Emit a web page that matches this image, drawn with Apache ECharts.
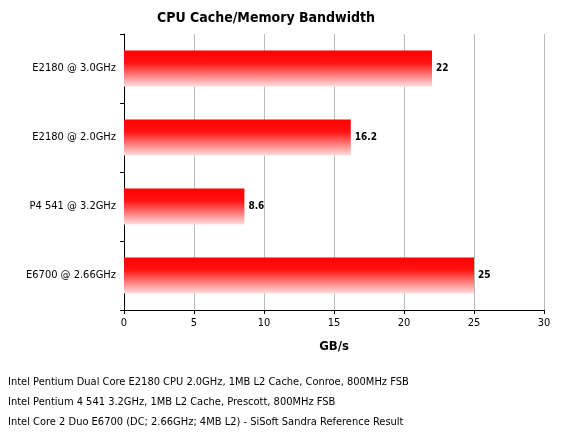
<!DOCTYPE html>
<html><head><meta charset="utf-8">
<script src="https://cdn.jsdelivr.net/npm/echarts@6/dist/echarts.min.js"></script>
<style>body{margin:0}#c{width:574px;height:440px}</style></head>
<body><div id="c"></div>
<script>
const categories = ["E2180 @ 3.0GHz", "E2180 @ 2.0GHz", "P4 541 @ 3.2GHz", "E6700 @ 2.66GHz"];
const values = [22, 16.2, 8.6, 25];
const xTicks = [0, 5, 10, 15, 20, 25, 30];
const notes = [
  "Intel Pentium Dual Core E2180 CPU 2.0GHz, 1MB L2 Cache, Conroe, 800MHz FSB",
  "Intel Pentium 4 541 3.2GHz, 1MB L2 Cache, Prescott, 800MHz FSB",
  "Intel Core 2 Duo E6700 (DC; 2.66GHz; 4MB L2) - SiSoft Sandra Reference Result"
];
const F = "DejaVu Sans Condensed";
const chart = echarts.init(document.getElementById('c'));
chart.setOption({
  animation: false,
  title: {text: "CPU Cache/Memory Bandwidth", left: 261, textAlign: 'center', top: 6,
    textStyle: {fontFamily: F, fontSize: 14, fontWeight: 'bold', color: '#000'}},
  graphic: notes.map((t, i) => ({type: 'text', left: 8, top: 377 + i * 20,
    style: {text: t, font: '11px ' + F, fill: '#000'}})),
  grid: {left: 124, right: 30, top: 34, bottom: 130},
  xAxis: {type: 'value', min: 0, max: 30, interval: 5,
    name: 'GB/s', nameLocation: 'middle', nameGap: 30,
    nameTextStyle: {fontFamily: F, fontSize: 13, fontWeight: 'bold', color: '#000'},
    axisLine: {show: true, lineStyle: {color: '#000'}},
    axisTick: {show: true, length: 4, lineStyle: {color: '#000'}},
    axisLabel: {fontFamily: F, fontSize: 11, color: '#000', formatter: v => xTicks.includes(v) ? String(v) : ''},
    splitLine: {show: true, lineStyle: {color: '#bbb'}}},
  yAxis: {type: 'category', data: categories, inverse: true,
    axisLine: {show: true, lineStyle: {color: '#000'}},
    axisTick: {show: true, length: 4, lineStyle: {color: '#000'}},
    axisLabel: {fontFamily: F, fontSize: 11, color: '#000', margin: 8},
    splitLine: {show: false}},
  series: [{type: 'bar', data: values, barWidth: 36,
    itemStyle: {color: new echarts.graphic.LinearGradient(0, 0, 0, 1, [
      {offset: 0, color: '#ff0000'}, {offset: 0.35, color: '#ff1414'}, {offset: 1, color: '#ffdede'}])},
    label: {show: true, position: 'right', distance: 4, fontFamily: F, fontSize: 10, fontWeight: 'bold', color: '#000'}}]
});
</script></body></html>
